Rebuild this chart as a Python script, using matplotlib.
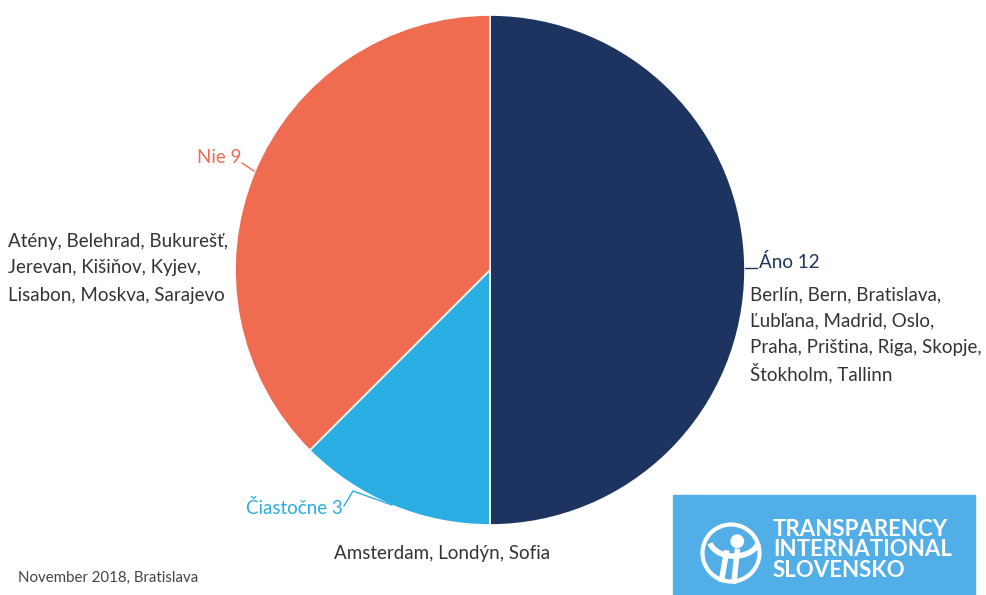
import matplotlib.pyplot as plt
from matplotlib.patches import Rectangle, Circle, Arc

plt.rcParams['font.family'] = ['Lato', 'DejaVu Sans']

labels = ['Áno', 'Čiastočne', 'Nie']
values = [12, 3, 9]
colors = ['#1d3461', '#2aade3', '#ef6c50']
cities_ano = ['Berlín, Bern, Bratislava,', 'Ľubľana, Madrid, Oslo,',
              'Praha, Priština, Riga, Skopje,', 'Štokholm, Tallinn']
cities_nie = ['Atény, Belehrad, Bukurešť,', 'Jerevan, Kišiňov, Kyjev,',
              'Lisabon, Moskva, Sarajevo']
cities_ciast = ['Amsterdam, Londýn, Sofia']
footer = 'November 2018, Bratislava'

W, H = 987, 595
fig = plt.figure(figsize=(W / 100, H / 100), dpi=100)

# pie axes, centre (490, 270) px, radius 255 px
cx, cy, r = 490, 270, 255
ax = fig.add_axes([(cx - r) / W, (H - cy - r) / H, 2 * r / W, 2 * r / H])
ax.pie(values, colors=colors, startangle=90, counterclock=False,
       wedgeprops=dict(edgecolor='white', linewidth=1.2))
ax.set_xlim(-1, 1)
ax.set_ylim(-1, 1)
ax.set_aspect('equal')
ax.axis('off')


def fx(px):
    return px / W


def fy(py):
    return 1 - py / H


def line(xs, ys, c):
    fig.add_artist(plt.Line2D([fx(x) for x in xs], [fy(y) for y in ys],
                              color=c, lw=1.0, transform=fig.transFigure))


def block(lines, x, y0, step, ha='left'):
    for i, s in enumerate(lines):
        fig.text(fx(x), fy(y0 + i * step), s, color='#333333', fontsize=13.5,
                 va='center', ha=ha)


# slice labels with leader lines
line([745, 757], [268, 268], colors[0])
fig.text(fx(759), fy(262), f'{labels[0]} {values[0]}', color=colors[0],
         fontsize=13.5, va='center', ha='left')
line([242, 254], [163, 171], colors[2])
fig.text(fx(241), fy(158), f'{labels[2]} {values[2]}', color=colors[2],
         fontsize=13.5, va='center', ha='right')
line([392, 353, 344], [505, 491, 506], colors[1])
fig.text(fx(343), fy(508), f'{labels[1]} {values[1]}', color=colors[1],
         fontsize=13.5, va='center', ha='right')

# city lists
block(cities_ano, 750, 295, 26)
block(cities_nie, 8, 241, 27)
block(cities_ciast, 442, 553, 26, ha='center')
fig.text(fx(18), fy(578), footer, color='#444444', fontsize=10.8,
         va='center', ha='left')

# logo box
fig.add_artist(Rectangle((fx(673), fy(595)), fx(975) - fx(673), fy(495) - fy(595),
                         transform=fig.transFigure, color='#51aee6', zorder=1))
fig.text(fx(773), fy(550), 'TRANSPARENCY\nINTERNATIONAL\nSLOVENSKO', color='white',
         fontsize=16, fontweight='bold', va='center', ha='left', linespacing=0.95,
         zorder=2)
# simple globe mark
lax = fig.add_axes([fx(700), fy(584), fx(762) - fx(700), fy(522) - fy(584)], zorder=3)
lax.set_xlim(-1, 1)
lax.set_ylim(-1, 1)
lax.set_aspect('equal')
lax.axis('off')
lax.add_patch(Circle((0, 0), 0.92, fill=False, ec='white', lw=3))
lax.add_patch(Circle((0.2, 0.38), 0.2, color='white'))
lax.add_patch(Arc((0.1, 0.45), 1.6, 1.1, theta1=190, theta2=350, color='white', lw=4))
lax.plot([-0.15, -0.3], [0.0, -0.85], color='white', lw=4)
lax.plot([0.2, 0.1], [0.05, -0.9], color='white', lw=4)

fig.savefig('out.png', dpi=100)
